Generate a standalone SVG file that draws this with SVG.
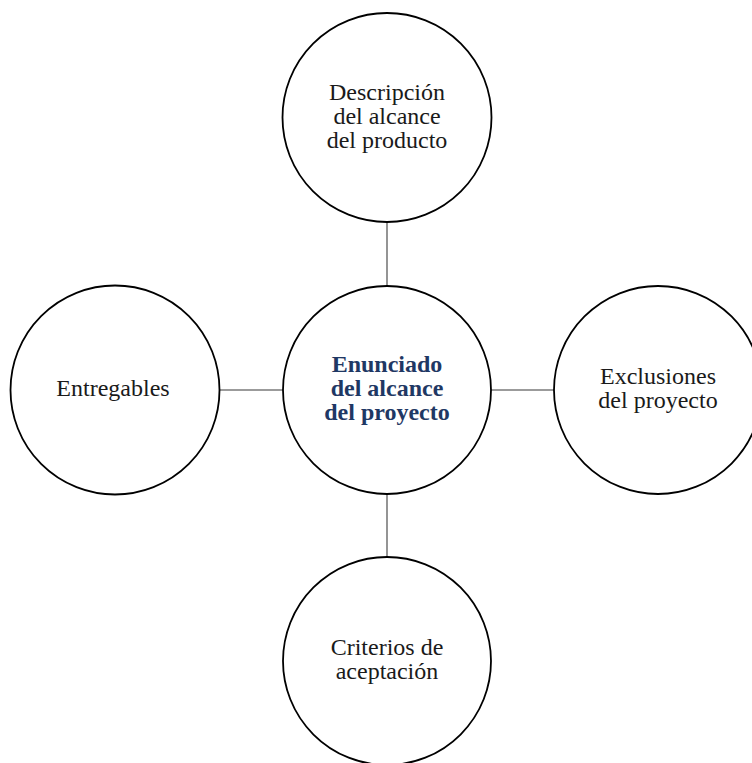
<svg xmlns="http://www.w3.org/2000/svg" width="752" height="763" viewBox="0 0 752 763">
  <style>
    .node { fill: #ffffff; stroke: #000000; stroke-width: 1.8; }
    .link { stroke: #7a7a7a; stroke-width: 1.6; fill: none; }
    .label { font-family: "Liberation Serif", "Times New Roman", serif; font-size: 24px; fill: #1a1a1a; text-anchor: middle; }
    .main { font-weight: bold; fill: #1f3864; }
  </style>
  <rect width="752" height="763" fill="#ffffff"/>

  <!-- connectors between the hub and the four satellites -->
  <g id="connectors">
    <line class="link" x1="387" y1="222" x2="387" y2="286"/>
    <line class="link" x1="387" y1="494" x2="387" y2="557"/>
    <line class="link" x1="219" y1="390" x2="283" y2="390"/>
    <line class="link" x1="491" y1="390" x2="554" y2="390"/>
  </g>

  <g id="node-descripcion">
    <circle class="node" cx="387" cy="117.5" r="104.5"/>
    <text class="label" x="387" y="100">Descripción</text>
    <text class="label" x="387" y="124">del alcance</text>
    <text class="label" x="387" y="148">del producto</text>
  </g>

  <g id="node-enunciado">
    <circle class="node" cx="387" cy="390" r="104"/>
    <text class="label main" x="387" y="372">Enunciado</text>
    <text class="label main" x="387" y="396">del alcance</text>
    <text class="label main" x="387" y="420">del proyecto</text>
  </g>

  <g id="node-entregables">
    <circle class="node" cx="115" cy="390" r="104.5"/>
    <text class="label" x="113" y="396">Entregables</text>
  </g>

  <g id="node-exclusiones">
    <circle class="node" cx="658" cy="390" r="104"/>
    <text class="label" x="658" y="384">Exclusiones</text>
    <text class="label" x="658" y="408">del proyecto</text>
  </g>

  <g id="node-criterios">
    <circle class="node" cx="387" cy="661" r="104"/>
    <text class="label" x="387" y="655">Criterios de</text>
    <text class="label" x="387" y="679">aceptación</text>
  </g>
</svg>
